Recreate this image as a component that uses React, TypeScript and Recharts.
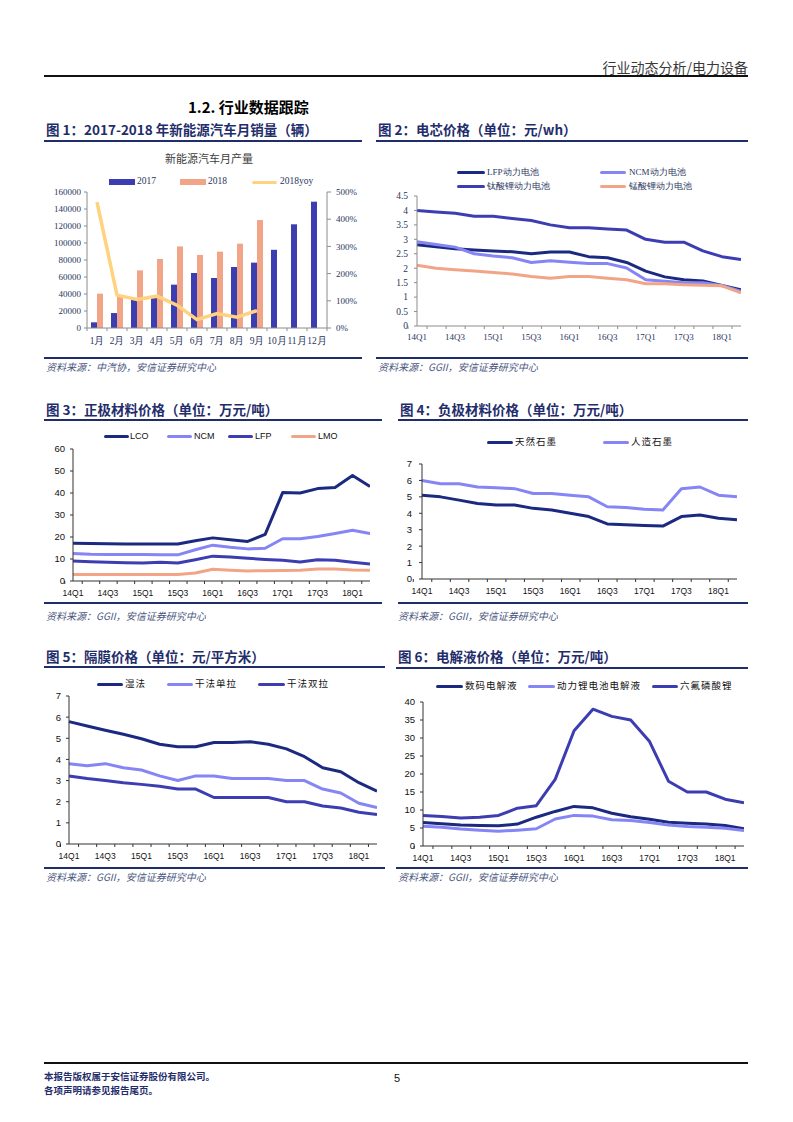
import React from 'react';
import { ComposedChart, LineChart, Line, Bar, XAxis, YAxis } from 'recharts';

// ---------- data ----------
const months = ['1月', '2月', '3月', '4月', '5月', '6月', '7月', '8月', '9月', '10月', '11月', '12月'];
const nev2017 = [6700, 17600, 33000, 37000, 51000, 64700, 58800, 71800, 76900, 92000, 122000, 148600];
const nev2018 = [40400, 38500, 67800, 81200, 96000, 86000, 89800, 99200, 127000, null, null, null];
const nevYoy2018 = [463, 121, 105, 117, 84, 31, 53, 40, 64, null, null, null];

const quarters = ['14Q1', '14Q2', '14Q3', '14Q4', '15Q1', '15Q2', '15Q3', '15Q4', '16Q1', '16Q2', '16Q3', '16Q4', '17Q1', '17Q2', '17Q3', '17Q4', '18Q1', '18Q2'];

const cellLFP = [2.81, 2.74, 2.67, 2.63, 2.6, 2.57, 2.5, 2.56, 2.56, 2.4, 2.36, 2.2, 1.9, 1.7, 1.6, 1.56, 1.4, 1.25];
const cellNCM = [2.92, 2.82, 2.73, 2.5, 2.42, 2.36, 2.2, 2.26, 2.21, 2.16, 2.16, 2.01, 1.6, 1.55, 1.5, 1.5, 1.4, 1.2];
const cellLTO = [4.0, 3.95, 3.9, 3.8, 3.8, 3.72, 3.65, 3.5, 3.4, 3.4, 3.36, 3.32, 3.0, 2.9, 2.9, 2.6, 2.4, 2.3];
const cellLMO = [2.1, 2.0, 1.95, 1.9, 1.85, 1.8, 1.71, 1.65, 1.71, 1.71, 1.65, 1.6, 1.46, 1.46, 1.43, 1.41, 1.39, 1.15];

const catLCO = [17.2, 17.0, 16.9, 16.8, 16.8, 16.8, 16.8, 18.3, 19.6, 18.8, 18.0, 21.2, 40.2, 40.0, 42.0, 42.5, 48.0, 43.0];
const catNCM = [12.5, 12.2, 12.1, 12.0, 12.0, 11.9, 11.9, 14.2, 16.3, 15.3, 14.6, 14.9, 19.2, 19.2, 20.2, 21.6, 23.1, 21.6];
const catLFP = [9.1, 8.8, 8.5, 8.3, 8.2, 8.5, 8.2, 9.7, 11.3, 10.9, 10.3, 9.8, 9.4, 8.6, 9.7, 9.4, 8.5, 7.7];
const catLMO = [3.0, 3.0, 3.0, 3.0, 3.0, 2.9, 3.0, 3.6, 5.3, 4.9, 4.6, 4.7, 4.8, 4.9, 5.4, 5.5, 5.0, 4.9];

const anodeNatural = [5.1, 5.0, 4.8, 4.6, 4.5, 4.5, 4.3, 4.2, 4.0, 3.8, 3.35, 3.3, 3.25, 3.22, 3.8, 3.9, 3.7, 3.6];
const anodeArtificial = [6.0, 5.8, 5.8, 5.6, 5.55, 5.5, 5.2, 5.2, 5.1, 5.0, 4.4, 4.35, 4.25, 4.2, 5.5, 5.6, 5.1, 5.0];

const sepWet = [5.79, 5.58, 5.38, 5.19, 4.98, 4.72, 4.6, 4.6, 4.8, 4.8, 4.84, 4.72, 4.5, 4.13, 3.61, 3.42, 2.9, 2.5];
const sepDrySingle = [3.8, 3.7, 3.8, 3.61, 3.5, 3.22, 3.0, 3.22, 3.22, 3.1, 3.1, 3.1, 3.0, 3.0, 2.6, 2.41, 1.93, 1.72];
const sepDryDouble = [3.22, 3.1, 3.0, 2.9, 2.82, 2.73, 2.6, 2.6, 2.2, 2.2, 2.2, 2.2, 2.0, 2.0, 1.8, 1.7, 1.5, 1.4];

const elecDigital = [6.5, 6.2, 5.8, 5.7, 5.6, 6.1, 8.0, 9.6, 11.0, 10.6, 9.1, 8.1, 7.4, 6.6, 6.3, 6.1, 5.7, 4.8];
const elecPower = [5.5, 5.2, 4.7, 4.4, 4.1, 4.4, 4.8, 7.5, 8.5, 8.3, 7.3, 7.1, 6.5, 5.8, 5.4, 5.2, 4.9, 4.3];
const elecLiPF6 = [8.5, 8.2, 7.8, 8.0, 8.5, 10.5, 11.2, 18.5, 32.0, 38.0, 36.0, 35.0, 29.0, 18.0, 15.0, 15.0, 13.0, 12.0];

const ticksC1L = [0, 20000, 40000, 60000, 80000, 100000, 120000, 140000, 160000];
const ticksC1R = [0, 100, 200, 300, 400, 500];
const ticksC2 = [0, 0.5, 1, 1.5, 2, 2.5, 3, 3.5, 4, 4.5];
const ticksC3 = [0, 10, 20, 30, 40, 50, 60];
const ticks0to7 = [0, 1, 2, 3, 4, 5, 6, 7];
const ticksC6 = [0, 5, 10, 15, 20, 25, 30, 35, 40];

// ---------- tables built from arrays ----------
const c1Data = months.map((m, i) => ({ m, a: nev2017[i], b: nev2018[i], yoy: nevYoy2018[i] }));
const c2Data = quarters.map((q, i) => ({ q, lfp: cellLFP[i], ncm: cellNCM[i], lto: cellLTO[i], lmo: cellLMO[i] }));
const c3Data = quarters.map((q, i) => ({ q, lco: catLCO[i], ncm: catNCM[i], lfp: catLFP[i], lmo: catLMO[i] }));
const c4Data = quarters.map((q, i) => ({ q, nat: anodeNatural[i], art: anodeArtificial[i] }));
const c5Data = quarters.map((q, i) => ({ q, wet: sepWet[i], single: sepDrySingle[i], dbl: sepDryDouble[i] }));
const c6Data = quarters.map((q, i) => ({ q, dig: elecDigital[i], pow: elecPower[i], lipf6: elecLiPF6[i] }));

// ---------- styles ----------
const NAVY = '#1b2a80';
const LIGHT = '#8585f5';
const INDIGO = '#3d3db2';
const SALMON = '#f2a487';
const YELLOW = '#ffd27f';
const TITLE = '#1f2d6b';
const AXTXT = '#2a3560';
const CJK = '"Noto Sans CJK SC", "Noto Sans", sans-serif';
const SERIF = '"Liberation Serif", "DejaVu Serif", serif';
const SANS = '"Liberation Sans", Arial, sans-serif';

type TxtProps = {
  x: number; y: number; size: number; children: React.ReactNode;
  color?: string; weight?: number; family?: string; italic?: boolean;
  anchor?: 'start' | 'middle' | 'end'; ls?: number;
};
function Txt({ x, y, size, children, color = '#000', weight = 400, family = CJK, italic = false, anchor = 'start', ls = 0 }: TxtProps) {
  const style: React.CSSProperties = {
    position: 'absolute', top: y - size / 2 - 1, fontSize: size, lineHeight: `${size + 2}px`,
    whiteSpace: 'nowrap', color, fontWeight: weight, fontFamily: family,
    fontStyle: italic ? 'italic' : 'normal', letterSpacing: ls,
  };
  if (anchor === 'start') style.left = x;
  else if (anchor === 'end') style.right = 793 - x;
  else { style.left = x; style.transform = 'translateX(-50%)'; }
  return <div style={style}>{children}</div>;
}

function Rule({ x1, x2, y, color = TITLE, w = 1.5 }: { x1: number; x2: number; y: number; color?: string; w?: number }) {
  return <div style={{ position: 'absolute', left: x1, top: y - w / 2, width: x2 - x1, height: w, background: color }} />;
}

type LegItem = { x1: number; x2: number; tx: number; label: string; color: string; rect?: boolean };
function Legend({ y, items, size, family, color = '#222', ls = 0 }: { y: number; items: LegItem[]; size: number; family: string; color?: string; ls?: number }) {
  return (
    <>
      {items.map((it) => (
        <React.Fragment key={it.label}>
          <div style={{
            position: 'absolute', left: it.x1, top: y - (it.rect ? 3 : 1.5), width: it.x2 - it.x1,
            height: it.rect ? 6 : 3, background: it.color, borderRadius: it.rect ? 0 : 1.5,
          }} />
          <Txt x={it.tx} y={y} size={size} family={family} color={color} ls={ls}>{it.label}</Txt>
        </React.Fragment>
      ))}
    </>
  );
}

function makeXTick(o: { band: number; n: number; every: number; family: string; size: number; fill: string; dy: number; tickLen: number; stroke: string }) {
  return (props: any) => {
    const { x, y, payload, index } = props;
    const bx = x - o.band / 2;
    return (
      <g>
        <line x1={bx} x2={bx} y1={y} y2={y + o.tickLen} stroke={o.stroke} strokeWidth={1} />
        {index === o.n - 1 ? <line x1={x + o.band / 2} x2={x + o.band / 2} y1={y} y2={y + o.tickLen} stroke={o.stroke} strokeWidth={1} /> : null}
        {index % o.every === 0 ? (
          <text x={x} y={y + o.dy} textAnchor="middle" dominantBaseline="central" fontFamily={o.family} fontSize={o.size} fill={o.fill}>
            {payload.value}
          </text>
        ) : null}
      </g>
    );
  };
}

const lineProps = { type: 'linear' as const, dot: false, activeDot: false, strokeWidth: 3, isAnimationActive: false, strokeLinejoin: 'round' as const };

function QuarterChart({ left, top, width, height, mTop, yWidth, tickMargin, domain, ticks, data, lines }: {
  left: number; top: number; width: number; height: number; mTop: number; yWidth: number; tickMargin: number;
  domain: [number, number]; ticks: number[]; data: any[]; lines: { key: string; color: string }[];
}) {
  const band = (width - yWidth) / quarters.length;
  const tick = makeXTick({ band, n: quarters.length, every: 2, family: SANS, size: 8.5, fill: '#111', dy: 12, tickLen: 3, stroke: '#333' });
  return (
    <div style={{ position: 'absolute', left, top }}>
      <LineChart width={width} height={height} data={data} margin={{ top: mTop, right: 0, bottom: 0, left: 0 }}>
        <XAxis dataKey="q" interval={0} tickSize={0} tickMargin={0} tickLine={false} height={22} axisLine={{ stroke: '#333' }} tick={tick} />
        <YAxis width={yWidth} domain={domain} ticks={ticks} interval={0} tickSize={3} tickMargin={tickMargin}
          axisLine={{ stroke: '#333' }} tickLine={{ stroke: '#333' }}
          tick={{ fontSize: 9.5, fontFamily: SANS, fill: '#111' }} />
        {lines.map((l) => (
          <Line key={l.key} dataKey={l.key} stroke={l.color} {...lineProps} />
        ))}
      </LineChart>
    </div>
  );
}

export default function App() {
  const c1Tick = makeXTick({ band: 20, n: 12, every: 1, family: SERIF, size: 9.5, fill: AXTXT, dy: 13, tickLen: 3, stroke: '#8c8c8c' });
  const c2Tick = makeXTick({ band: 18, n: 18, every: 2, family: SERIF, size: 9, fill: AXTXT, dy: 11, tickLen: 3, stroke: '#8c8c8c' });
  return (
    <div style={{ position: 'absolute', left: 0, top: 0, width: 793, height: 1122, background: '#fff', overflow: 'hidden' }}>
      {/* header */}
      <Txt x={748} y={67} size={14} color="#3a3a3a" anchor="end">行业动态分析/电力设备</Txt>
      <Rule x1={44} x2={748} y={76} color="#111" w={1.5} />
      <Txt x={188} y={106} size={15} weight={700} color="#000">1.2. 行业数据跟踪</Txt>

      {/* figure titles & rules */}
      <Txt x={46} y={130} size={13.5} weight={700} color={TITLE}>图 1：2017-2018 年新能源汽车月销量（辆）</Txt>
      <Txt x={378} y={130} size={13.5} weight={700} color={TITLE}>图 2：电芯价格（单位：元/wh）</Txt>
      <Rule x1={44} x2={362} y={141} />
      <Rule x1={376} x2={748} y={141} />
      <Rule x1={44} x2={362} y={358} />
      <Rule x1={376} x2={748} y={358} />
      <Txt x={46} y={367} size={10} italic color="#4a5680">资料来源：中汽协，安信证券研究中心</Txt>
      <Txt x={378} y={367} size={10} italic color="#4a5680">资料来源：GGII，安信证券研究中心</Txt>

      <Txt x={46} y={410} size={13.5} weight={700} color={TITLE}>图 3：正极材料价格（单位：万元/吨）</Txt>
      <Txt x={400} y={410} size={13.5} weight={700} color={TITLE}>图 4：负极材料价格（单位：万元/吨）</Txt>
      <Rule x1={44} x2={382} y={420} />
      <Rule x1={398} x2={748} y={420} />
      <Rule x1={44} x2={382} y={603} />
      <Rule x1={398} x2={748} y={603} />
      <Txt x={46} y={616} size={10} italic color="#4a5680">资料来源：GGII，安信证券研究中心</Txt>
      <Txt x={398} y={616} size={10} italic color="#4a5680">资料来源：GGII，安信证券研究中心</Txt>

      <Txt x={46} y={657} size={13.5} weight={700} color={TITLE}>图 5：隔膜价格（单位：元/平方米）</Txt>
      <Txt x={398} y={657} size={13.5} weight={700} color={TITLE}>图 6：电解液价格（单位：万元/吨）</Txt>
      <Rule x1={44} x2={385} y={667} />
      <Rule x1={396} x2={748} y={668} />
      <Rule x1={44} x2={385} y={868} />
      <Rule x1={396} x2={748} y={868} />
      <Txt x={46} y={877} size={10} italic color="#4a5680">资料来源：GGII，安信证券研究中心</Txt>
      <Txt x={398} y={877} size={10} italic color="#4a5680">资料来源：GGII，安信证券研究中心</Txt>

      {/* chart 1 */}
      <Txt x={209} y={158} size={11} color="#404040" anchor="middle">新能源汽车月产量</Txt>
      <Legend y={182} size={9.5} family={SERIF} color={AXTXT} items={[
        { x1: 109, x2: 135, tx: 137, label: '2017', color: INDIGO, rect: true },
        { x1: 180, x2: 206, tx: 208, label: '2018', color: SALMON, rect: true },
        { x1: 252, x2: 277, tx: 280, label: '2018yoy', color: YELLOW },
      ]} />
      <div style={{ position: 'absolute', left: 42, top: 150 }}>
        <ComposedChart width={325} height={200} data={c1Data} margin={{ top: 42, right: 0, bottom: 0, left: 0 }} barGap={0} barCategoryGap="20%">
          <XAxis dataKey="m" interval={0} tickSize={0} tickMargin={0} tickLine={false} height={22} axisLine={{ stroke: '#8c8c8c' }} tick={c1Tick} />
          <YAxis yAxisId="l" width={45} domain={[0, 160000]} ticks={ticksC1L} interval={0} tickSize={3} tickMargin={3}
            axisLine={{ stroke: '#8c8c8c' }} tickLine={{ stroke: '#8c8c8c' }} tick={{ fontSize: 9, fontFamily: SERIF, fill: AXTXT }} />
          <YAxis yAxisId="r" orientation="right" width={40} domain={[0, 500]} ticks={ticksC1R} interval={0} tickSize={4} tickMargin={5}
            tickFormatter={(v: number) => `${v}%`}
            axisLine={{ stroke: '#8c8c8c' }} tickLine={{ stroke: '#8c8c8c' }} tick={{ fontSize: 9, fontFamily: SERIF, fill: AXTXT, textAnchor: 'start' }} />
          <Bar yAxisId="l" dataKey="a" fill={INDIGO} isAnimationActive={false} />
          <Bar yAxisId="l" dataKey="b" fill={SALMON} isAnimationActive={false} />
          <Line yAxisId="r" dataKey="yoy" stroke={YELLOW} type="linear" dot={false} activeDot={false} strokeWidth={3.5} isAnimationActive={false} />
        </ComposedChart>
      </div>

      {/* chart 2 */}
      <Legend y={172} size={9} family={SERIF} color={AXTXT} items={[
        { x1: 457, x2: 485, tx: 487, label: 'LFP动力电池', color: NAVY },
        { x1: 600, x2: 626, tx: 629, label: 'NCM动力电池', color: LIGHT },
      ]} />
      <Legend y={186} size={9} family={SERIF} color={AXTXT} items={[
        { x1: 457, x2: 485, tx: 487, label: '钛酸锂动力电池', color: INDIGO },
        { x1: 600, x2: 626, tx: 629, label: '锰酸锂动力电池', color: SALMON },
      ]} />
      <div style={{ position: 'absolute', left: 375, top: 150 }}>
        <LineChart width={366} height={200} data={c2Data} margin={{ top: 46, right: 0, bottom: 0, left: 0 }}>
          <XAxis dataKey="q" interval={0} tickSize={0} tickMargin={0} tickLine={false} height={24} axisLine={{ stroke: '#8c8c8c' }} tick={c2Tick} />
          <YAxis width={42} domain={[0, 4.5]} ticks={ticksC2} interval={0} tickSize={3} tickMargin={6}
            axisLine={{ stroke: '#8c8c8c' }} tickLine={{ stroke: '#8c8c8c' }} tick={{ fontSize: 9.5, fontFamily: SERIF, fill: AXTXT }} />
          <Line dataKey="lfp" stroke={NAVY} {...lineProps} />
          <Line dataKey="ncm" stroke={LIGHT} {...lineProps} />
          <Line dataKey="lto" stroke={INDIGO} {...lineProps} />
          <Line dataKey="lmo" stroke={SALMON} {...lineProps} />
        </LineChart>
      </div>

      {/* chart 3 */}
      <Legend y={436} size={9} family={SANS} color="#111" items={[
        { x1: 104, x2: 129, tx: 130, label: 'LCO', color: NAVY },
        { x1: 167, x2: 192, tx: 194, label: 'NCM', color: LIGHT },
        { x1: 228, x2: 253, tx: 255, label: 'LFP', color: INDIGO },
        { x1: 291, x2: 316, tx: 318, label: 'LMO', color: SALMON },
      ]} />
      <QuarterChart left={40} top={425} width={330} height={178} mTop={24} yWidth={33} tickMargin={5}
        domain={[0, 60]} ticks={ticksC3} data={c3Data}
        lines={[{ key: 'lco', color: NAVY }, { key: 'ncm', color: LIGHT }, { key: 'lfp', color: INDIGO }, { key: 'lmo', color: SALMON }]} />

      {/* chart 4 */}
      <Legend y={442} size={9.5} family={CJK} color="#111" ls={1} items={[
        { x1: 487, x2: 513, tx: 515, label: '天然石墨', color: NAVY },
        { x1: 603, x2: 629, tx: 631, label: '人造石墨', color: LIGHT },
      ]} />
      <QuarterChart left={385} top={425} width={352} height={176} mTop={39} yWidth={37} tickMargin={7}
        domain={[0, 7]} ticks={ticks0to7} data={c4Data}
        lines={[{ key: 'nat', color: NAVY }, { key: 'art', color: LIGHT }]} />

      {/* chart 5 */}
      <Legend y={684} size={9.5} family={CJK} color="#111" ls={1} items={[
        { x1: 97, x2: 123, tx: 125, label: '湿法', color: NAVY },
        { x1: 167, x2: 193, tx: 195, label: '干法单拉', color: LIGHT },
        { x1: 258, x2: 285, tx: 287, label: '干法双拉', color: INDIGO },
      ]} />
      <QuarterChart left={40} top={670} width={337} height={196} mTop={26} yWidth={29} tickMargin={5}
        domain={[0, 7]} ticks={ticks0to7} data={c5Data}
        lines={[{ key: 'wet', color: NAVY }, { key: 'single', color: LIGHT }, { key: 'dbl', color: INDIGO }]} />

      {/* chart 6 */}
      <Legend y={686} size={9.5} family={CJK} color="#111" ls={1} items={[
        { x1: 436, x2: 463, tx: 465, label: '数码电解液', color: NAVY },
        { x1: 528, x2: 555, tx: 557, label: '动力锂电池电解液', color: LIGHT },
        { x1: 652, x2: 678, tx: 680, label: '六氟磷酸锂', color: INDIGO },
      ]} />
      <QuarterChart left={390} top={670} width={354} height={198} mTop={32} yWidth={33} tickMargin={5}
        domain={[0, 40]} ticks={ticksC6} data={c6Data}
        lines={[{ key: 'dig', color: NAVY }, { key: 'pow', color: LIGHT }, { key: 'lipf6', color: INDIGO }]} />

      {/* footer */}
      <Rule x1={44} x2={748} y={1063} color="#111" w={1.2} />
      <Txt x={44} y={1077} size={9.5} weight={700} color={TITLE}>本报告版权属于安信证券股份有限公司。</Txt>
      <Txt x={44} y={1091} size={9.5} weight={700} color={TITLE}>各项声明请参见报告尾页。</Txt>
      <Txt x={397} y={1078} size={11} family={SANS} color="#111" anchor="middle">5</Txt>
    </div>
  );
}
